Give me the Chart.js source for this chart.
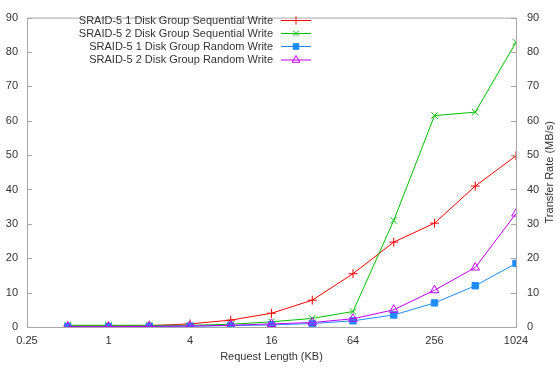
<!DOCTYPE html>
<html>
<head>
<meta charset="utf-8">
<script src="https://cdn.jsdelivr.net/npm/chart.js@4/dist/chart.umd.min.js"></script>
<style>
  html, body { margin: 0; padding: 0; background: #fff; }
  #wrap { width: 560px; height: 371px; }
</style>
</head>
<body>
<div id="wrap"><canvas id="myChart" width="560" height="371"></canvas></div>
<script>
// request length in KB
var sizes = [0.5, 1, 2, 4, 8, 16, 32, 64, 128, 256, 512, 1024];
var xTicks = [0.25, 1, 4, 16, 64, 256, 1024];
var yTicks = [0, 10, 20, 30, 40, 50, 60, 70, 80, 90];

var seq1 = [0.3, 0.3, 0.4, 0.9, 2.0, 4.0, 7.8, 15.5, 24.7, 30.2, 41.0, 49.8];
var seq2 = [0.5, 0.5, 0.5, 0.5, 0.8, 1.5, 2.5, 4.5, 31.0, 61.5, 62.5, 82.8];
var rnd1 = [0.1, 0.1, 0.15, 0.2, 0.4, 0.6, 1.0, 1.8, 3.5, 7.0, 12.0, 18.5];
var rnd2 = [0.1, 0.1, 0.2, 0.3, 0.5, 0.9, 1.3, 2.4, 5.0, 10.7, 17.3, 33.0];

var names = [
  'SRAID-5 1 Disk Group Sequential Write',
  'SRAID-5 2 Disk Group Sequential Write',
  'SRAID-5 1 Disk Group Random Write',
  'SRAID-5 2 Disk Group Random Write'
];
var colors = ['#ff0000', '#00c000', '#1e8cff', '#c000ff'];
var styles = ['cross', 'crossRot', 'rect', 'triangle'];
var radii = [4.5, 4.5, 4.5, 5];
var fills = ['#ff0000', '#00c000', '#1e8cff', 'rgba(0,0,0,0)'];

function pts(vals) {
  return sizes.map(function (s, i) { return { x: s, y: vals[i] }; });
}

var series = [seq1, seq2, rnd1, rnd2];
var datasets = series.map(function (vals, i) {
  return {
    label: names[i],
    data: pts(vals),
    borderColor: colors[i],
    backgroundColor: fills[i],
    pointBorderColor: colors[i],
    pointBackgroundColor: fills[i],
    pointStyle: styles[i],
    pointRadius: radii[i],
    pointBorderWidth: 1,
    borderWidth: 1,
    tension: 0,
    order: 3 - i
  };
});

var FONT = '"Liberation Sans", Arial, sans-serif';

var frame = {
  id: 'frame',
  afterDatasetsDraw: function (chart) {
    var ctx = chart.ctx, a = chart.chartArea;
    ctx.save();
    ctx.strokeStyle = '#a8a8a8';
    ctx.lineWidth = 1;
    ctx.strokeRect(a.left + 0.5, a.top + 0.5, a.right - a.left, a.bottom - a.top);
    // inward ticks on both y axes
    var y = chart.scales.y;
    yTicks.forEach(function (v) {
      var py = Math.round(y.getPixelForValue(v)) + 0.5;
      ctx.beginPath();
      ctx.moveTo(a.left, py); ctx.lineTo(a.left + 5, py);
      ctx.moveTo(a.right, py); ctx.lineTo(a.right - 5, py);
      ctx.stroke();
    });
    // legend
    ctx.font = '11px ' + FONT;
    ctx.textAlign = 'right';
    ctx.textBaseline = 'middle';
    var rows = [20.5, 33.5, 46.5, 60];
    names.forEach(function (n, i) {
      var ly = rows[i];
      ctx.fillStyle = '#333';
      ctx.fillText(n, 273, ly);
      ctx.strokeStyle = colors[i];
      ctx.beginPath();
      ctx.moveTo(281, ly); ctx.lineTo(311, ly);
      ctx.stroke();
      ctx.fillStyle = fills[i];
      Chart.helpers.drawPoint(ctx, {
        pointStyle: styles[i], radius: radii[i] - 0.5, borderWidth: 1
      }, 296, ly);
    });
    // axis titles
    ctx.fillStyle = '#333';
    ctx.textAlign = 'center';
    ctx.fillText('Request Length (KB)', (a.left + a.right) / 2, 357);
    ctx.translate(550, (a.top + a.bottom) / 2);
    ctx.rotate(-Math.PI / 2);
    ctx.fillText('Transfer Rate (MB/s)', 0, 0);
    ctx.restore();
  }
};

var ctx = document.getElementById('myChart');
var chart = new Chart(ctx, {
  type: 'line',
  data: { datasets: datasets },
  plugins: [frame],
  options: {
    responsive: false,
    animation: false,
    events: [],
    layout: { padding: { top: 10, left: 0, right: 0, bottom: 0 } },
    plugins: { legend: { display: false }, tooltip: { enabled: false } },
    scales: {
      x: {
        type: 'logarithmic',
        min: 0.25,
        max: 1024,
        afterBuildTicks: function (s) {
          s.ticks = xTicks.map(function (v) { return { value: v }; });
        },
        afterFit: function (s) { s.height = 44; },
        grid: { display: false, drawTicks: false },
        border: { display: false },
        ticks: {
          color: '#333',
          font: { family: FONT, size: 11 },
          padding: 7,
          maxRotation: 0,
          autoSkip: false,
          callback: function (v) { return String(v); }
        }
      },
      y: {
        position: 'left',
        min: 0,
        max: 90,
        afterFit: function (s) { s.width = 27; },
        grid: { display: false, drawTicks: false },
        border: { display: false },
        ticks: {
          stepSize: 10,
          color: '#333',
          font: { family: FONT, size: 11 },
          padding: 9
        }
      },
      y2: {
        position: 'right',
        min: 0,
        max: 90,
        afterFit: function (s) { s.width = 44; },
        grid: { display: false, drawTicks: false },
        border: { display: false },
        ticks: {
          stepSize: 10,
          color: '#333',
          font: { family: FONT, size: 11 },
          padding: 11
        }
      }
    }
  }
});
</script>
</body>
</html>
